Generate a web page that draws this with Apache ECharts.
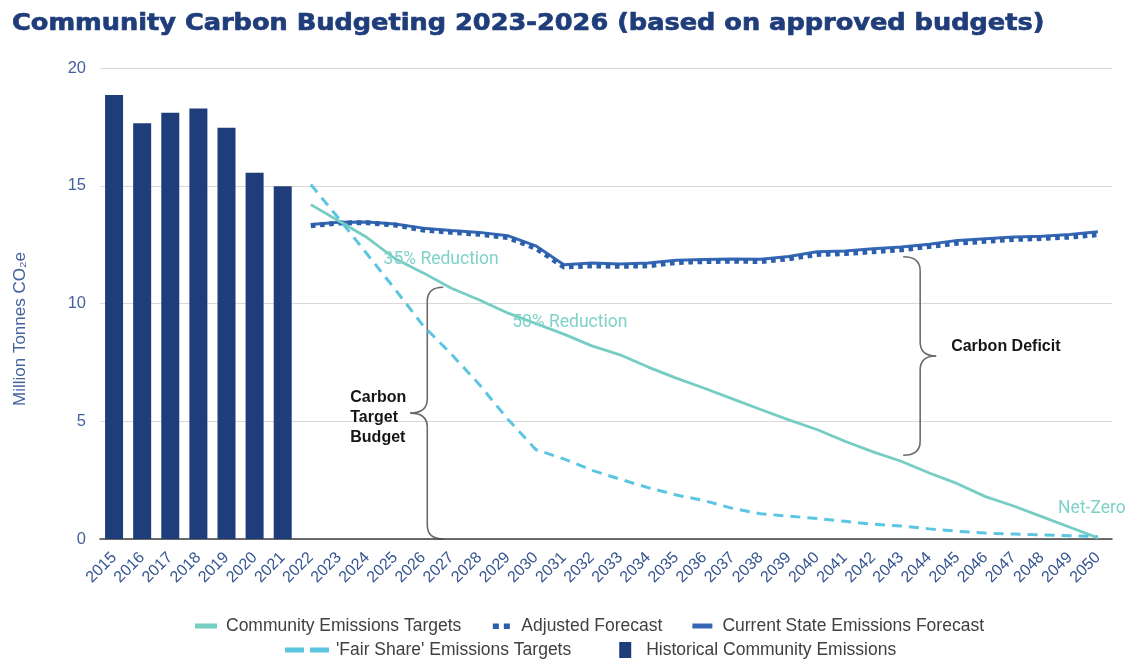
<!DOCTYPE html>
<html>
<head>
<meta charset="utf-8">
<script src="https://cdn.jsdelivr.net/npm/echarts@6/dist/echarts.min.js"></script>
<style>
  html, body { margin: 0; padding: 0; background: #ffffff; }
  #chart { width: 1131px; height: 660px; }
</style>
</head>
<body>
<div id="chart"></div>
<script>
// Years on the category axis
const years = ['2015','2016','2017','2018','2019','2020','2021','2022','2023','2024',
  '2025','2026','2027','2028','2029','2030','2031','2032','2033','2034','2035','2036',
  '2037','2038','2039','2040','2041','2042','2043','2044','2045','2046','2047','2048',
  '2049','2050'];

// Historical community emissions, 2015-2021 (Mt CO2e)
const historical = [18.85, 17.65, 18.1, 18.28, 17.46, 15.55, 14.98];

// Projections and targets, 2022-2050 (Mt CO2e)
const currentState = [13.35, 13.45, 13.46, 13.38, 13.2, 13.1, 13.02, 12.88, 12.45, 11.65,
  11.72, 11.68, 11.72, 11.84, 11.87, 11.89, 11.88, 12.0, 12.2, 12.23, 12.32, 12.4, 12.52,
  12.68, 12.75, 12.82, 12.86, 12.93, 13.05];
const adjusted = [13.3, 13.42, 13.43, 13.33, 13.12, 13.02, 12.94, 12.8, 12.35, 11.55,
  11.6, 11.58, 11.6, 11.74, 11.78, 11.8, 11.78, 11.9, 12.08, 12.12, 12.2, 12.28, 12.42,
  12.56, 12.64, 12.72, 12.76, 12.82, 12.92];
const communityTargets = [14.2, 13.5, 12.8, 11.9, 11.3, 10.65, 10.15, 9.6, 9.15, 8.7,
  8.2, 7.82, 7.3, 6.83, 6.4, 5.95, 5.5, 5.06, 4.65, 4.15, 3.7, 3.3, 2.8, 2.35, 1.8, 1.4,
  0.95, 0.5, 0.05];
const fairShare = [15.05, 13.6, 12.1, 10.6, 9.05, 7.85, 6.55, 5.1, 3.8, 3.4, 2.92, 2.54,
  2.18, 1.87, 1.63, 1.3, 1.07, 0.97, 0.87, 0.75, 0.63, 0.55, 0.43, 0.33, 0.25, 0.21,
  0.17, 0.14, 0.1];

// Milestones labelled on the community target line
const milestoneYears = ['2025', '2030', '2050'];
const milestoneText = ['35% Reduction', '50% Reduction', 'Net-Zero'];
const milestoneOffsets = [[46, 1], [34, -1], [-6, -29]];

// Y axis ticks
const yTicks = { min: 0, max: 20, step: 5 };

const firstForecast = years.indexOf('2022');
const pad = (arr) => years.map((y, i) => (i < firstForecast ? null : arr[i - firstForecast]));
const barData = years.map((y, i) => (i < historical.length ? historical[i] : null));

const communityData = pad(communityTargets).map((v, i) => {
  const m = milestoneYears.indexOf(years[i]);
  if (m < 0) return v;
  return {
    value: v,
    label: {
      show: true,
      formatter: milestoneText[m],
      position: 'inside',
      offset: milestoneOffsets[m],
      color: '#7fd2c7',
      fontFamily: 'Roboto',
      fontSize: 17.5
    }
  };
});

const C = {
  navy: '#1f3d7a',
  current: '#3567b5',
  adjusted: '#2c5fab',
  teal: '#76cdc2',
  sky: '#5cc6e2',
  axisText: '#34538f',
  grid: '#d9d9d9'
};

const chart = echarts.init(document.getElementById('chart'), null, { renderer: 'canvas' });

const legendText = { fontFamily: 'Liberation Sans', fontSize: 17.5, color: '#404040', padding: [0, 0, 0, 2] };

chart.setOption({
  animation: false,
  backgroundColor: '#ffffff',
  grid: { left: 100, right: 19, top: 68, bottom: 121, containLabel: false },
  legend: [
    {
      top: 612,
      left: 188,
      itemWidth: 26,
      itemHeight: 14,
      itemGap: 27,
      textStyle: legendText,
      data: [
        { name: 'Community Emissions Targets', icon: 'path://M0,0M26,14M2,4.5h22v5h-22z' },
        { name: 'Adjusted Forecast', icon: 'path://M0,0M26,14M4.5,4.5h6v5.5h-6zM15.5,4.5h6v5.5h-6z' },
        { name: 'Current State Emissions Forecast', icon: 'path://M0,0M26,14M3,4.5h20v5h-20z' }
      ]
    },
    {
      top: 636,
      left: 280,
      itemWidth: 44,
      itemHeight: 16,
      itemGap: 24,
      textStyle: legendText,
      data: [
        { name: "'Fair Share' Emissions Targets", icon: 'path://M0,0M44,16M0,5.5h19v5h-19zM25,5.5h19v5h-19z' },
        { name: 'Historical Community Emissions', icon: 'path://M0,0M44,16M24,0h12v16h-12z' }
      ]
    }
  ],
  xAxis: {
    type: 'category',
    data: years,
    boundaryGap: true,
    axisLine: { lineStyle: { color: '#404040', width: 1.5 } },
    axisTick: { show: false },
    axisLabel: {
      interval: 0,
      rotate: 45,
      margin: 16,
      fontFamily: 'Liberation Sans',
      fontSize: 16,
      color: C.axisText
    },
    splitLine: { show: false }
  },
  yAxis: {
    type: 'value',
    min: yTicks.min,
    max: yTicks.max,
    interval: yTicks.step,
    axisLine: { show: false },
    axisTick: { show: false },
    axisLabel: { margin: 14, fontFamily: 'Liberation Sans', fontSize: 16.5, color: '#44619c' },
    splitLine: { lineStyle: { color: C.grid, width: 1.2 } }
  },
  series: [
    {
      name: 'Historical Community Emissions',
      type: 'bar',
      data: barData,
      barWidth: 18,
      itemStyle: { color: C.navy },
      z: 2
    },
    {
      name: 'Current State Emissions Forecast',
      type: 'line',
      data: pad(currentState),
      symbol: 'none',
      lineStyle: { color: C.current, width: 3 },
      itemStyle: { color: C.current },
      z: 3
    },
    {
      name: 'Adjusted Forecast',
      type: 'line',
      data: pad(adjusted),
      symbol: 'none',
      lineStyle: { color: C.adjusted, width: 5, type: [4.6, 4.6], cap: 'butt' },
      itemStyle: { color: C.adjusted },
      z: 4
    },
    {
      name: 'Community Emissions Targets',
      type: 'line',
      data: communityData,
      symbol: 'circle',
      symbolSize: 0,
      showSymbol: true,
      showAllSymbol: true,
      label: { show: false },
      lineStyle: { color: C.teal, width: 2.8 },
      itemStyle: { color: C.teal },
      z: 5
    },
    {
      name: "'Fair Share' Emissions Targets",
      type: 'line',
      data: pad(fairShare),
      symbol: 'none',
      lineStyle: { color: C.sky, width: 3, type: [10, 7] },
      itemStyle: { color: C.sky },
      z: 5
    }
  ]
});

// Brace annotations, title and axis name; braces are anchored to data positions
const px = (cat, val) => chart.convertToPixel({ gridIndex: 0 }, [cat, val]);
const at = (arr, year) => arr[years.indexOf(year) - firstForecast];

const braceStyle = { stroke: '#6b6b6b', lineWidth: 1.6, fill: null };

// Curly brace built from straight runs and quadratic curves
function brace(xv, xe, xt, yTop, yBot) {
  const yMid = (yTop + yBot) / 2;
  const r = 14;
  const q = (x1, y1, cx, cy, x2, y2) => ({
    type: 'bezierCurve',
    shape: { x1: x1, y1: y1, cpx1: cx, cpy1: cy, x2: x2, y2: y2 },
    style: braceStyle
  });
  const l = (x1, y1, x2, y2) => ({
    type: 'line',
    shape: { x1: x1, y1: y1, x2: x2, y2: y2 },
    style: braceStyle
  });
  return {
    type: 'group',
    z: 10,
    children: [
      q(xe, yTop, xv, yTop, xv, yTop + r),
      l(xv, yTop + r, xv, yMid - r),
      q(xv, yMid - r, xv, yMid, xt, yMid),
      q(xt, yMid, xv, yMid, xv, yMid + r),
      l(xv, yMid + r, xv, yBot - r),
      q(xv, yBot - r, xv, yBot, xe, yBot)
    ]
  };
}

const lx = px('2026', 0)[0] + 4;
const lTop = px('2027', at(communityTargets, '2027'))[1] - 1;
const lBot = px('2026', 0)[1];
const lMid = (lTop + lBot) / 2;

const rx = px('2043', 0)[0] + 19;
const rTop = px('2043', at(adjusted, '2043'))[1] + 7;
const rBot = px('2043', at(communityTargets, '2043'))[1] - 6;
const rMid = (rTop + rBot) / 2;

const noteFont = { fontFamily: 'Liberation Sans', fontSize: 16, fontWeight: 'bold', fill: '#151515' };

chart.setOption({
  graphic: [
    {
      type: 'text',
      x: 12,
      y: 24,
      scaleX: 1.09,
      style: {
        text: 'Community Carbon Budgeting 2023-2026 (based on approved budgets)',
        fontFamily: 'DejaVu Sans',
        fontWeight: 'bold',
        fontSize: 23.5,
        fill: C.navy,
        stroke: C.navy,
        lineWidth: 0.7,
        align: 'left',
        verticalAlign: 'middle'
      }
    },
    brace(lx, lx + 16, lx - 17, lTop, lBot),
    brace(rx, rx - 17, rx + 16, rTop, rBot),
    {
      type: 'text',
      x: lx - 77,
      y: lMid + 4,
      z: 10,
      style: Object.assign({ text: 'Carbon\nTarget\nBudget', lineHeight: 20, verticalAlign: 'middle', align: 'left' }, noteFont)
    },
    {
      type: 'text',
      x: rx + 31,
      y: rMid - 9,
      z: 10,
      style: Object.assign({ text: 'Carbon Deficit', verticalAlign: 'middle', align: 'left' }, noteFont)
    },
    {
      type: 'text',
      x: 20,
      y: 329,
      rotation: Math.PI / 2,
      style: {
        text: 'Million Tonnes CO₂e',
        fontFamily: 'Liberation Sans',
        fontSize: 17,
        fill: '#44619c',
        align: 'center',
        verticalAlign: 'middle'
      }
    }
  ]
});
</script>
</body>
</html>
